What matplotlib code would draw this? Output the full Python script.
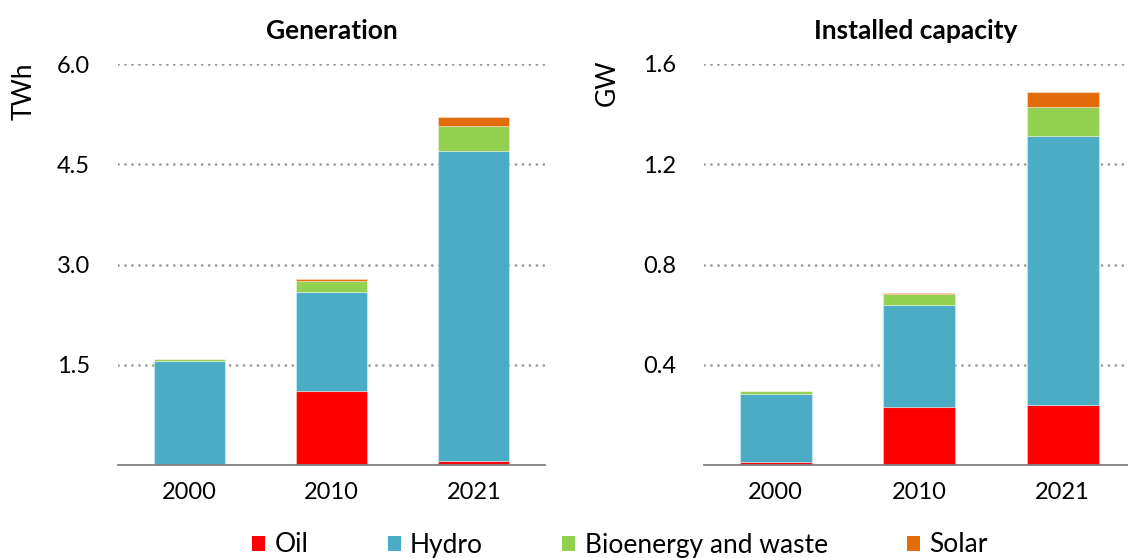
import matplotlib
matplotlib.use("Agg")
import matplotlib.pyplot as plt
from matplotlib.patches import Patch
import numpy as np

plt.rcParams['font.family'] = ['Lato', 'DejaVu Sans']

years = ["2000", "2010", "2021"]
series = ["Oil", "Hydro", "Bioenergy and waste", "Solar"]
colors = ["#FF0000", "#4BACC6", "#92D050", "#E36C0A"]

gen_oil = [0.0, 1.11, 0.065]
gen_hydro = [1.56, 1.48, 4.635]
gen_bio = [0.03, 0.17, 0.37]
gen_solar = [0.0, 0.02, 0.13]

cap_oil = [0.012, 0.230, 0.240]
cap_hydro = [0.271, 0.409, 1.073]
cap_bio = [0.011, 0.045, 0.116]
cap_solar = [0.0, 0.003, 0.061]

gen_ticks = [1.5, 3.0, 4.5, 6.0]
cap_ticks = [0.4, 0.8, 1.2, 1.6]

W, H = 1128, 558
fig = plt.figure(figsize=(W / 100, H / 100), dpi=100)

def fx(px):
    return px / W

def fy(py):
    return 1 - py / H

ax1 = fig.add_axes([fx(118), fy(465), (545 - 118) / W, (465 - 64) / H])
ax2 = fig.add_axes([fx(704), fy(465), (1128 - 704) / W, (465 - 64) / H])

def draw(ax, data, ymax, ticks, title, unit, xmax, labx, laby):
    x = np.arange(len(years))
    bottom = np.zeros(len(years))
    for vals, c in zip(data, colors):
        ax.bar(x, vals, 0.5, bottom=bottom, color=c, edgecolor=(1, 1, 1, 0.35), linewidth=0.8, zorder=3)
        bottom = bottom + np.array(vals)
    ax.set_xlim(-0.5, xmax)
    ax.set_ylim(0, ymax)
    ax.set_yticks(ticks)
    ax.set_yticklabels([f"{t:.1f}" for t in ticks])
    ax.set_xticks(x)
    ax.set_xticklabels(years)
    ax.tick_params(axis='both', length=0, labelsize=17, colors='#000000')
    ax.tick_params(axis='y', pad=20)
    ax.tick_params(axis='x', pad=12)
    for s in ['top', 'right', 'left']:
        ax.spines[s].set_visible(False)
    ax.spines['bottom'].set_color('#808080')
    ax.spines['bottom'].set_linewidth(1.3)
    ax.spines['bottom'].set_zorder(4)
    ax.yaxis.grid(True, linestyle=(0, (0.01, 2.5)), linewidth=2, color='#999999', dash_capstyle='round', zorder=0)
    ax.set_axisbelow(True)
    ax.set_title(title, fontsize=19, fontweight='bold', pad=18)
    fig.text(fx(labx), fy(laby), unit, rotation=90, ha='center', va='top', fontsize=19)

draw(ax1, [gen_oil, gen_hydro, gen_bio, gen_solar], 6.0, gen_ticks, "Generation", "TWh", 2.5, 24, 62)
draw(ax2, [cap_oil, cap_hydro, cap_bio, cap_solar], 1.6, cap_ticks, "Installed capacity", "GW", 2.455, 607, 60)

handles = [Patch(facecolor=c, edgecolor='none') for c in colors]
fig.legend(handles, series, loc='center', bbox_to_anchor=(fx(620), fy(545)), ncol=4,
           frameon=False, fontsize=19, handlelength=0.5, handleheight=0.5,
           handletextpad=0.35, columnspacing=3.0, borderaxespad=0)

fig.savefig("out.png", dpi=100)
